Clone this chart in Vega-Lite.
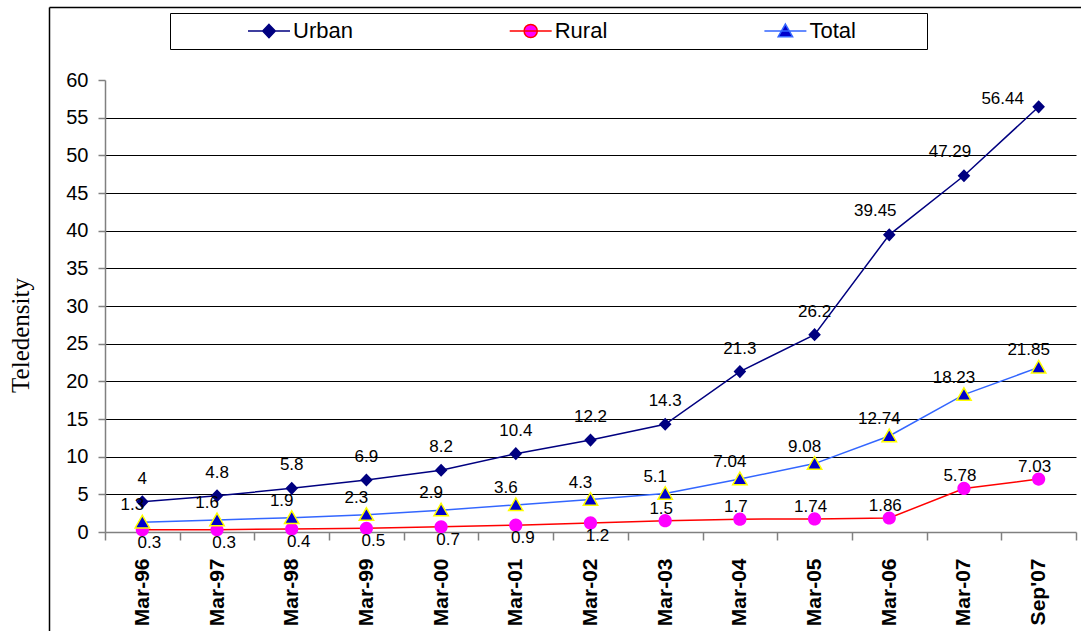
{
  "$schema": "https://vega.github.io/schema/vega-lite/v6.json",
  "width": 971,
  "height": 452,
  "autosize": {"type": "none"},
  "padding": {"left": 105, "top": 80, "right": 5, "bottom": 99},
  "background": "white",
  "config": {
    "font": "Liberation Sans",
    "view": {"stroke": null},
    "text": {"font": "Liberation Sans"},
    "legend": {
      "orient": "none",
      "legendX": 65,
      "legendY": -67,
      "direction": "horizontal",
      "titleOrient": "left",
      "titleFontSize": 22,
      "titlePadding": 17,
      "strokeColor": "black",
      "padding": 7,
      "symbolSize": 144,
      "symbolStrokeWidth": 1.5,
      "labelFont": "Liberation Sans",
      "labelFontSize": 22,
      "labelColor": "black",
      "labelOffset": 13,
      "columnPadding": 153.7,
      "labelLimit": 300
    }
  },
  "resolve": {"scale": {"x": "independent", "y": "independent"}},
  "layer": [
    {
      "data": {
        "values": [
          {"period": "Mar-96", "series": "Urban", "value": 4},
          {"period": "Mar-97", "series": "Urban", "value": 4.8},
          {"period": "Mar-98", "series": "Urban", "value": 5.8},
          {"period": "Mar-99", "series": "Urban", "value": 6.9},
          {"period": "Mar-00", "series": "Urban", "value": 8.2},
          {"period": "Mar-01", "series": "Urban", "value": 10.4},
          {"period": "Mar-02", "series": "Urban", "value": 12.2},
          {"period": "Mar-03", "series": "Urban", "value": 14.3},
          {"period": "Mar-04", "series": "Urban", "value": 21.3},
          {"period": "Mar-05", "series": "Urban", "value": 26.2},
          {"period": "Mar-06", "series": "Urban", "value": 39.45},
          {"period": "Mar-07", "series": "Urban", "value": 47.29},
          {"period": "Sep'07", "series": "Urban", "value": 56.44},
          {"period": "Mar-96", "series": "Rural", "value": 0.3},
          {"period": "Mar-97", "series": "Rural", "value": 0.3},
          {"period": "Mar-98", "series": "Rural", "value": 0.4},
          {"period": "Mar-99", "series": "Rural", "value": 0.5},
          {"period": "Mar-00", "series": "Rural", "value": 0.7},
          {"period": "Mar-01", "series": "Rural", "value": 0.9},
          {"period": "Mar-02", "series": "Rural", "value": 1.2},
          {"period": "Mar-03", "series": "Rural", "value": 1.5},
          {"period": "Mar-04", "series": "Rural", "value": 1.7},
          {"period": "Mar-05", "series": "Rural", "value": 1.74},
          {"period": "Mar-06", "series": "Rural", "value": 1.86},
          {"period": "Mar-07", "series": "Rural", "value": 5.78},
          {"period": "Sep'07", "series": "Rural", "value": 7.03},
          {"period": "Mar-96", "series": "Total", "value": 1.3},
          {"period": "Mar-97", "series": "Total", "value": 1.6},
          {"period": "Mar-98", "series": "Total", "value": 1.9},
          {"period": "Mar-99", "series": "Total", "value": 2.3},
          {"period": "Mar-00", "series": "Total", "value": 2.9},
          {"period": "Mar-01", "series": "Total", "value": 3.6},
          {"period": "Mar-02", "series": "Total", "value": 4.3},
          {"period": "Mar-03", "series": "Total", "value": 5.1},
          {"period": "Mar-04", "series": "Total", "value": 7.04},
          {"period": "Mar-05", "series": "Total", "value": 9.08},
          {"period": "Mar-06", "series": "Total", "value": 12.74},
          {"period": "Mar-07", "series": "Total", "value": 18.23},
          {"period": "Sep'07", "series": "Total", "value": 21.85}
        ]
      },
      "encoding": {
        "x": {
          "field": "period",
          "type": "nominal",
          "sort": null,
          "title": null,
          "scale": {
            "type": "band",
            "domain": ["Mar-96", "Mar-97", "Mar-98", "Mar-99", "Mar-00", "Mar-01", "Mar-02", "Mar-03", "Mar-04", "Mar-05", "Mar-06", "Mar-07", "Sep'07"],
            "paddingInner": 0,
            "paddingOuter": 0
          },
          "axis": {
            "tickBand": "extent",
            "tickSize": 8,
            "tickColor": "#808080",
            "tickWidth": 1.5,
            "domainColor": "#808080",
            "domainWidth": 1.5,
            "labelAngle": 270,
            "labelFont": "Liberation Sans",
            "labelFontSize": 21,
            "labelFontWeight": "bold",
            "labelColor": "black",
            "labelPadding": 18,
            "grid": false
          }
        },
        "y": {
          "field": "value",
          "type": "quantitative",
          "title": "Teledensity",
          "scale": {"domain": [0, 60], "nice": false, "zero": true},
          "axis": {
            "values": [0, 5, 10, 15, 20, 25, 30, 35, 40, 45, 50, 55, 60],
            "tickSize": 7,
            "tickColor": "#808080",
            "tickWidth": 1.5,
            "domainColor": "#808080",
            "domainWidth": 1.5,
            "labelFont": "Liberation Sans",
            "labelFontSize": 20,
            "labelColor": "black",
            "labelPadding": 10,
            "grid": true,
            "gridColor": "black",
            "gridWidth": 1,
            "gridOpacity": {"condition": {"test": "datum.value === 0 || datum.value === 60", "value": 0}, "value": 1},
            "titleFont": "Liberation Serif",
            "titleFontSize": 25,
            "titleFontWeight": "normal",
            "titleColor": "black",
            "titleAngle": 270,
            "titleAlign": "center",
            "titleBaseline": "alphabetic",
            "titleX": -77,
            "titleY": 255
          }
        }
      },
      "layer": [
        {
          "mark": {"type": "line", "strokeWidth": 1.5},
          "encoding": {
            "stroke": {
              "field": "series",
              "type": "nominal",
              "title": "\u2800\u2800\u2800\u2800",
              "scale": {"domain": ["Urban", "Rural", "Total"], "range": ["#000080", "#FF0000", "#3366FF"]},
              "legend": {
                "labelExpr": "datum.label === 'Total' ? datum.label + '\u2800\u2800\u2800\u2800' : datum.label"
              }
            }
          }
        },
        {
          "mark": {"type": "point", "filled": true, "opacity": 1, "size": 144},
          "encoding": {
            "fill": {
              "field": "series",
              "type": "nominal",
              "title": "\u2800\u2800\u2800\u2800",
              "scale": {"domain": ["Urban", "Rural", "Total"], "range": ["#000080", "#FF00FF", "#0000CC"]},
              "legend": {
                "labelExpr": "datum.label === 'Total' ? datum.label + '\u2800\u2800\u2800\u2800' : datum.label"
              }
            },
            "shape": {
              "field": "series",
              "type": "nominal",
              "title": "\u2800\u2800\u2800\u2800",
              "scale": {
                "domain": ["Urban", "Rural", "Total"],
                "range": [
                  "M-3.5,0H3.5M0,-1.1L1.05,0L0,1.1L-1.05,0Z",
                  "M-3.5,0H3.5M-1.1,0A1.1,1.1,0,1,1,1.1,0A1.1,1.1,0,1,1,-1.1,0Z",
                  "M-3.5,0H3.5M0,-1.15L1.2,0.95L-1.2,0.95Z"
                ]
              },
              "legend": {
                "labelExpr": "datum.label === 'Total' ? datum.label + '\u2800\u2800\u2800\u2800' : datum.label"
              }
            }
          }
        },
        {
          "transform": [{"filter": {"field": "series", "equal": "Total"}}],
          "mark": {
            "type": "point",
            "filled": true,
            "opacity": 1,
            "size": 144,
            "shape": "M0,-1.15L1.2,0.95L-1.2,0.95Z",
            "fill": "#0000CC",
            "stroke": "#FFFF00",
            "strokeWidth": 1.5
          }
        },
        {
          "transform": [
            {"filter": {"and": [{"field": "series", "equal": "Urban"}, {"not": {"field": "period", "oneOf": ["Mar-06", "Mar-07", "Sep'07"]}}]}}
          ],
          "mark": {"type": "text", "fontSize": 17, "color": "black", "align": "center", "baseline": "middle", "dy": -23},
          "encoding": {"text": {"field": "value", "type": "nominal"}}
        },
        {
          "transform": [
            {"filter": {"and": [{"field": "series", "equal": "Urban"}, {"field": "period", "oneOf": ["Mar-06", "Mar-07"]}]}}
          ],
          "mark": {"type": "text", "fontSize": 17, "color": "black", "align": "center", "baseline": "middle", "dx": -14, "dy": -24},
          "encoding": {"text": {"field": "value", "type": "nominal"}}
        },
        {
          "transform": [
            {"filter": {"and": [{"field": "series", "equal": "Urban"}, {"field": "period", "equal": "Sep'07"}]}}
          ],
          "mark": {"type": "text", "fontSize": 17, "color": "black", "align": "center", "baseline": "middle", "dx": -36, "dy": -8},
          "encoding": {"text": {"field": "value", "type": "nominal"}}
        },
        {
          "transform": [{"filter": {"field": "series", "equal": "Total"}}],
          "mark": {"type": "text", "fontSize": 17, "color": "black", "align": "center", "baseline": "middle", "dx": -10, "dy": -17},
          "encoding": {"text": {"field": "value", "type": "nominal"}}
        },
        {
          "transform": [{"filter": {"and": [{"field": "series", "equal": "Rural"}, {"field": "value", "lt": 1.3}]}}],
          "mark": {"type": "text", "fontSize": 17, "color": "black", "align": "center", "baseline": "middle", "dx": 7, "dy": 13},
          "encoding": {"text": {"field": "value", "type": "nominal"}}
        },
        {
          "transform": [{"filter": {"and": [{"field": "series", "equal": "Rural"}, {"field": "value", "gte": 1.3}]}}],
          "mark": {"type": "text", "fontSize": 17, "color": "black", "align": "center", "baseline": "middle", "dx": -4, "dy": -12},
          "encoding": {"text": {"field": "value", "type": "nominal"}}
        }
      ]
    },
    {
      "data": {"values": [{}]},
      "mark": {"type": "point", "opacity": 0},
      "encoding": {
        "x": {
          "datum": 0,
          "type": "quantitative",
          "scale": {"domain": [0, 1], "range": [-56, 976], "nice": false, "zero": false},
          "axis": {"orient": "top", "offset": 73, "domainColor": "black", "domainWidth": 1.5, "ticks": false, "labels": false, "grid": false, "title": null}
        },
        "y": {
          "datum": 0,
          "type": "quantitative",
          "scale": {"domain": [0, 1], "range": [551, -73], "nice": false, "zero": false},
          "axis": {"orient": "left", "offset": 56, "domainColor": "black", "domainWidth": 1.5, "ticks": false, "labels": false, "grid": false, "title": null}
        }
      }
    }
  ]
}
